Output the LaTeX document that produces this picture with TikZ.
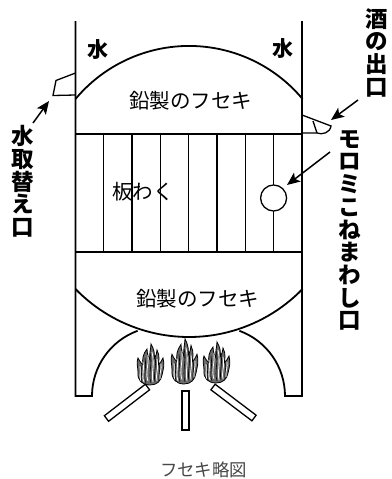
\documentclass[tikz,border=0pt]{standalone}
\usepackage{fontspec}
\newfontfamily\jp{Noto Sans CJK JP}
\usetikzlibrary{arrows.meta}
\definecolor{flamegray}{gray}{0.42}
\definecolor{captiongray}{gray}{0.28}

\tikzset{
  flame/.pic={
    \filldraw[fill=flamegray, draw=black, line width=0.8pt]
      (0,0)
      .. controls (-8,0) and (-13,-5) .. (-12,-13)
      .. controls (-12,-18) and (-14,-22) .. (-12,-27)
      .. controls (-10,-23) and (-8,-21) .. (-7,-20)
      .. controls (-8,-26) and (-7,-31) .. (-3,-36)
      .. controls (-3,-31) and (-1,-27) .. (0,-25)
      .. controls (-1,-31) and (1,-37) .. (1,-41)
      .. controls (4,-36) and (5,-31) .. (4,-26)
      .. controls (6,-29) and (7,-32) .. (7,-35)
      .. controls (10,-29) and (9,-24) .. (8,-20)
      .. controls (10,-22) and (12,-24) .. (13,-27)
      .. controls (15,-20) and (13,-15) .. (12,-10)
      .. controls (11,-4) and (7,0) .. (0,0) -- cycle;
    \draw[white, line width=0.8pt]
      (-9,-4) .. controls (-11,-9) and (-9,-13) .. (-10,-19)
      (-6,-3) .. controls (-9,-10) and (-5,-16) .. (-7,-23)
      (-2,-4) .. controls (-5,-12) and (-1,-20) .. (-2,-30)
      (3,-3) .. controls (1,-12) and (5,-20) .. (2,-33)
      (7,-4) .. controls (5,-10) and (9,-15) .. (7,-26)
      (10,-6) .. controls (9,-11) and (12,-16) .. (11,-21);
    \draw[black, line width=0.6pt]
      (-8,-2) .. controls (-10,-8) and (-7,-14) .. (-9,-20)
      (-4,-2) .. controls (-7,-10) and (-3,-16) .. (-5,-27)
      (1,-2) .. controls (-2,-12) and (3,-22) .. (0,-32)
      (5,-3) .. controls (3,-12) and (7,-18) .. (5,-29)
      (9,-4) .. controls (8,-10) and (11,-15) .. (9,-21);
  }
}

\begin{document}
\begin{tikzpicture}[x=1pt, y=-1pt,
  wall/.style={line width=1.8pt},
  fine/.style={line width=1.3pt},
  pointer/.style={line width=1.5pt, -{Stealth[length=13pt, width=11pt, inset=3pt]}},
  midlabel/.style={font=\jp\fontsize{20.5}{24}\selectfont, inner sep=0pt},
  waterlabel/.style={font=\jp\bfseries\fontsize{21}{24}\selectfont, inner sep=0pt},
  sidelabel/.style={font=\jp\bfseries\fontsize{22.5}{22.7}\selectfont, align=center, inner sep=0pt},
  caption/.style={font=\jp\fontsize{17.4}{20}\selectfont, text=captiongray, inner sep=0pt},
  stick/.style={line width=1.3pt, fill=white}
]
\useasboundingbox[fill=white] (0,0) rectangle (391,479);

% vessel walls with the firebox feet and side arcs
\draw[wall] (75.5,21) -- (75.5,396) -- (92,396)
  arc[start angle=180, end angle=250, radius=69.4];
\draw[wall] (302,21) -- (302,396) -- (285,396)
  arc[start angle=0, end angle=-70, radius=69.4];

% upper and lower lead domes
\draw[wall] (75.5,99) arc[start angle=219.9, end angle=320.1, radius=148];
\draw[wall] (75.5,289) arc[start angle=135.85, end angle=44.15, radius=158.2];

% wooden frame
\draw[fine] (75.5,134) -- (302,134);
\draw[fine] (75.5,252) -- (302,252);
\foreach \k in {1,...,6}
  \draw[fine] ({75.5+28.3*\k},134) -- ({75.5+28.3*\k},252);
\draw[fine] (273.6,134) -- (273.6,185);
\draw[fine] (273.6,211) -- (273.6,252);
\draw[fine, fill=white] (273.6,198) circle[radius=13];

% water outlet (left) and sake outlet (right)
\draw[fine] (75.5,73) -- (56,80.5) -- (53,95.5) -- (75.5,95);
\draw[fine] (302,115) -- (331,126)
  .. controls (330,133) and (322,135) .. (317,133) -- (302,133);
\draw[fine] (313,121) -- (317,133);

% fire
\pic at (150,385) {flame};
\pic[yscale=1.1] at (184,384) {flame};
\pic at (216,383) {flame};

% firewood
\draw[stick] (108.6,421.3) -- (104.4,415.7) -- (145.4,384.2) -- (149.6,389.8) -- cycle;
\draw[stick] (182,391) rectangle (189,430);
\draw[stick] (210.9,389.8) -- (215.1,384.2) -- (256.1,415.2) -- (251.9,420.8) -- cycle;

% labels
\node[waterlabel] (mizuL) at (97.5,50) {水};
\node[waterlabel] (mizuR) at (283,49) {水};
\node[midlabel] (fusekiTop) at (190.5,101) {鉛製のフセキ};
\node[midlabel] (waku) at (143,192) {板わく};
\node[midlabel] (fusekiBottom) at (197.5,299) {鉛製のフセキ};
\node[sidelabel] (waterPort) at (22.5,181.5) {水\\取\\替\\え\\口};
\node[sidelabel] (sakeOut) at (377,52.5) {酒\\の\\出\\口};
\node[sidelabel] (moromi) at (350,230.5) {モ\\ロ\\ミ\\こ\\ね\\ま\\わ\\し\\口};
\node[caption] (title) at (203.5,470) {フセキ略図};

% pointers
\coordinate (waterTail) at (33,123);
\coordinate (waterTip) at (49,101);
\coordinate (sakeTail) at (358,100);
\coordinate (sakeTip) at (331,120);
\coordinate (moromiTail) at (330,152);
\coordinate (moromiTip) at (287,185);
\draw[pointer] (waterTail) -- (waterTip);
\draw[pointer] (sakeTail) -- (sakeTip);
\draw[pointer] (moromiTail) -- (moromiTip);
\end{tikzpicture}
\end{document}
